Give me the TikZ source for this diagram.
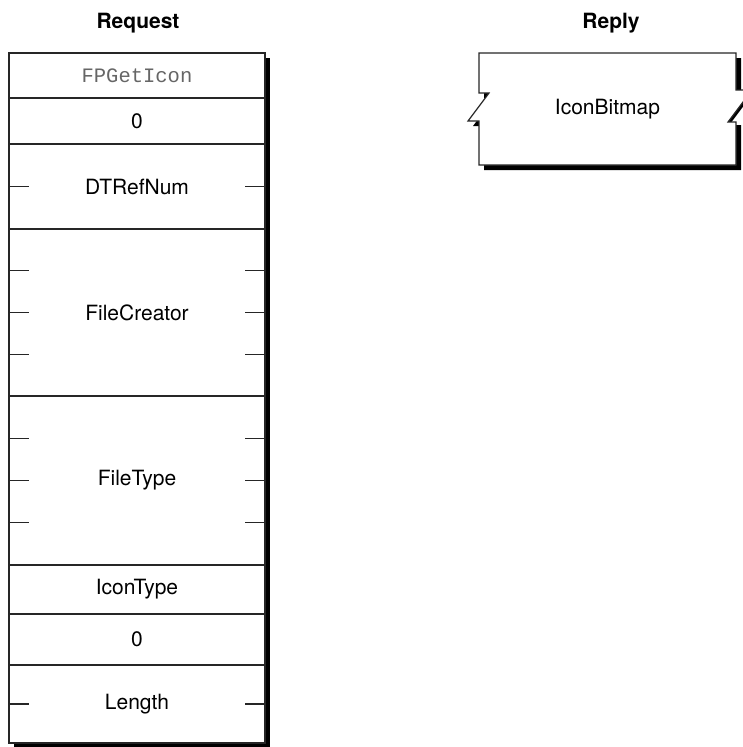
\documentclass[tikz,border=0pt]{standalone}
\usepackage{fontspec}
\setmainfont{TeX Gyre Heros}
\newfontfamily\codefont{Liberation Mono}
\usepackage{tikz}
\usetikzlibrary{positioning,calc,backgrounds}

\begin{document}
\begin{tikzpicture}[x=1pt, y=-1pt, node distance=0pt,
    font=\fontsize{21}{25}\selectfont,
    field/.style={draw=black!85, line width=1.2pt, fill=white, minimum width=256pt,
      inner sep=0pt, outer sep=0pt, anchor=north},
    title/.style={font=\fontsize{21}{25}\selectfont\bfseries, anchor=base},
    tick/.style={draw=black!85, line width=1.2pt}]
		\useasboundingbox (0,0) rectangle (742,747);
		% request block
		\node[title] (reqtitle) at (138,28) {Request};
		\node[field, minimum height=45pt, text=black!60, font=\fontsize{20.5}{24}\codefont] (op) at (137,53) {FPGetIcon};
		\node[field, minimum height=46pt, below=of op] (zero1) {0};
		\node[field, minimum height=85pt, below=of zero1] (ref) {DTRefNum};
		\node[field, minimum height=167pt, below=of ref] (creator) {FileCreator};
		\node[field, minimum height=169pt, below=of creator] (type) {FileType};
		\node[field, minimum height=49pt, below=of type] (icontype) {IconType};
		\node[field, minimum height=51pt, below=of icontype] (zero2) {0};
		\node[field, minimum height=78pt, below=of zero2] (len) {Length};
		\begin{scope}[on background layer]
			\fill[black] ([shift={(5,5)}]op.north west) rectangle ([shift={(5,5)}]len.south east);
		\end{scope}
		\foreach \row/\frac in {ref/0.5, creator/0.25, creator/0.5, creator/0.75,
		    type/0.25, type/0.5, type/0.75, len/0.5} {
			\draw[tick] ($(\row.north west)!\frac!(\row.south west)$) -- ++(20,0);
			\draw[tick] ($(\row.north east)!\frac!(\row.south east)$) -- ++(-20,0);
		}
		% reply block
		\node[title] (reptitle) at (611,28) {Reply};
		\fill[black] (484,58) -- (741,58) -- (741,90) -- (755.5,90) -- (729.25,125) -- (741,125)
		  -- (741,170) -- (484,170) -- (484,126) -- (473,126) -- (494,98) -- (484,98) -- cycle;
		\filldraw[fill=white, draw=black!85, line width=1.2pt] (479,53) -- (736,53) -- (736,90) -- (752,90)
		  -- (728,122) -- (736,122) -- (736,165) -- (479,165) -- (479,121) -- (468,121) -- (489,93)
		  -- (479,93) -- cycle;
		\node (bitmap) at (607.5,109) {IconBitmap};
	\end{tikzpicture}
\end{document}
